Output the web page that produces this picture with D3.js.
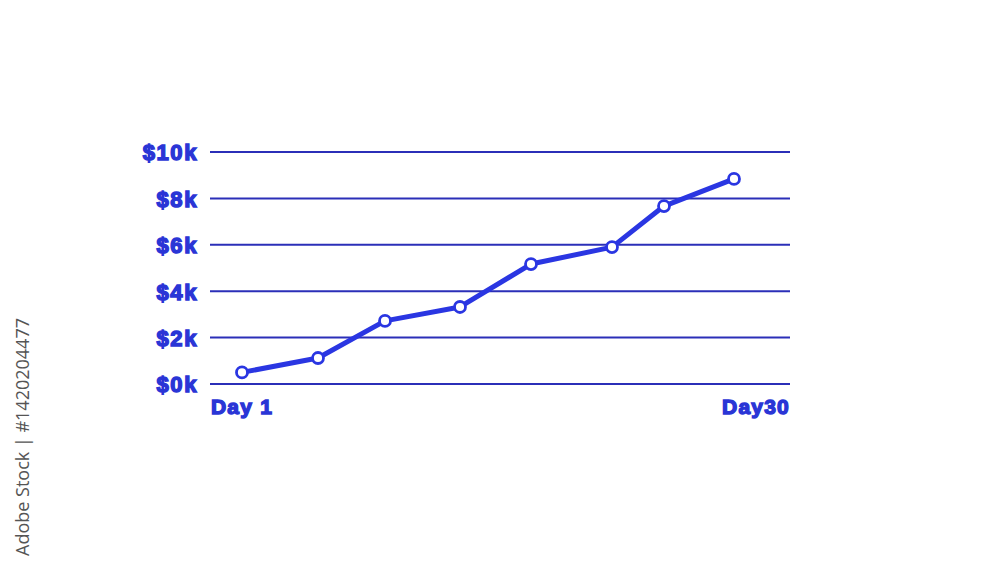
<!DOCTYPE html>
<html><head><meta charset="utf-8">
<script src="https://cdn.jsdelivr.net/npm/d3@7"></script>
<style>body{margin:0;background:#fff;}svg{display:block;}</style>
</head><body>
<svg id="c" width="1000" height="563"></svg>
<script>
const days = [2.6, 6.4, 9.75, 13.5, 17.05, 21.1, 23.7, 27.2];
const values = [500, 1120, 2720, 3320, 5170, 5900, 7670, 8840];
const yTicks = [0, 2000, 4000, 6000, 8000, 10000];
const yTickLabels = ["$0k", "$2k", "$4k", "$6k", "$8k", "$10k"];
const xLabels = [{day: 1, text: "Day 1"}, {day: 30, text: "Day30"}];
const watermark = "Adobe Stock | #1420204477";

const svg = d3.select("#c");
const x = d3.scaleLinear().domain([1, 30]).range([210, 790]);
const y = d3.scaleLinear().domain([0, 10000]).range([384, 152]);
const gridColor = "#2b2fb8", lineColor = "#2a36e2", textColor = "#2a35d6";
const font = "Liberation Sans, Arial, sans-serif";

svg.append("g").selectAll("line").data(yTicks).join("line")
  .attr("x1", x(1)).attr("x2", x(30))
  .attr("y1", d => y(d)).attr("y2", d => y(d))
  .attr("stroke", gridColor).attr("stroke-width", 2);

svg.append("g").selectAll("text").data(yTicks).join("text")
  .attr("x", 198).attr("y", d => y(d)).attr("dy", "0.38em")
  .attr("text-anchor", "end")
  .attr("font-family", font)
  .attr("font-weight", "bold").attr("font-size", 22)
  .attr("fill", textColor).attr("stroke", textColor).attr("stroke-width", 1.4)
  .attr("letter-spacing", 1.6)
  .text((d, i) => yTickLabels[i]);

svg.append("g").selectAll("text").data(xLabels).join("text")
  .attr("x", (d, i) => x(d.day) + (i === 0 ? 1 : 0)).attr("y", 414)
  .attr("text-anchor", (d, i) => i === 0 ? "start" : "end")
  .attr("font-family", font)
  .attr("font-weight", "bold").attr("font-size", 21)
  .attr("fill", textColor).attr("stroke", textColor).attr("stroke-width", 1.4)
  .attr("letter-spacing", 1.2)
  .text(d => d.text);

const pts = days.map((d, i) => [d, values[i]]);
svg.append("path").datum(pts)
  .attr("d", d3.line().x(d => x(d[0])).y(d => y(d[1])))
  .attr("fill", "none").attr("stroke", lineColor)
  .attr("stroke-width", 5).attr("stroke-linejoin", "round");

svg.append("g").selectAll("circle").data(pts).join("circle")
  .attr("cx", d => x(d[0])).attr("cy", d => y(d[1])).attr("r", 5.5)
  .attr("fill", "#fff").attr("stroke", lineColor).attr("stroke-width", 2.8);

svg.append("text")
  .attr("transform", "translate(29,556) rotate(-90)")
  .attr("font-family", "Open Sans, sans-serif").attr("font-size", 18)
  .attr("fill", "#555")
  .attr("xml:space", "preserve")
  .text(watermark);
</script>
</body></html>
